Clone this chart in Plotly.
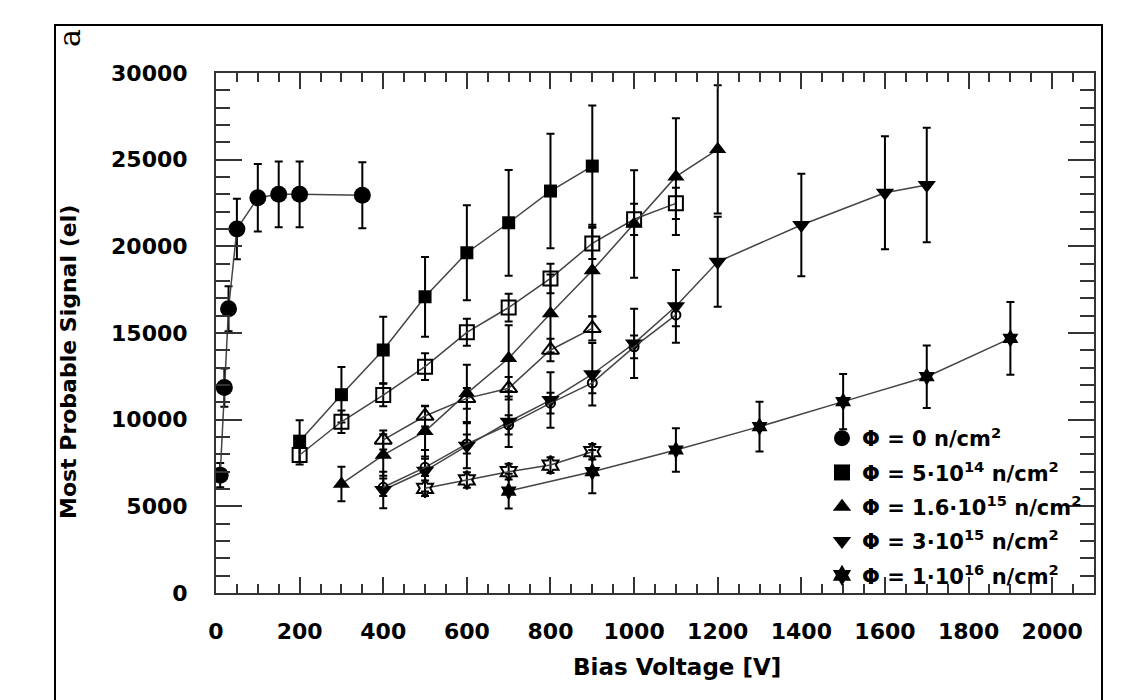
import plotly.graph_objects as go

# ---------------- data ----------------
v0 = [10, 20, 30, 50, 100, 150, 200, 350]
s0 = [6800, 11850, 16400, 21000, 22800, 23000, 23000, 22950]
e0 = [700, 1100, 1300, 1750, 1950, 1900, 1900, 1900]

v1 = [200, 300, 400, 500, 600, 700, 800, 900]
s1 = [8760, 11440, 14020, 17090, 19630, 21360, 23190, 24630]
e1 = [1200, 1600, 1920, 2300, 2740, 3050, 3300, 3500]

v1o = [200, 300, 400, 500, 600, 700, 800, 900, 1000, 1100]
s1o = [7960, 9880, 11420, 13060, 15040, 16470, 18150, 20170, 21560, 22480]
e1o = [550, 650, 650, 770, 780, 800, 850, 900, 900, 900]

v2 = [300, 400, 500, 600, 700, 800, 900, 1000, 1100, 1200]
s2 = [6290, 7960, 9330, 11520, 13540, 16130, 18600, 21290, 24020, 25600]
e2 = [1000, 1200, 1450, 1650, 1900, 2250, 2650, 3100, 3370, 3700]

v2o = [400, 500, 600, 700, 800, 900]
s2o = [8830, 10210, 11230, 11810, 14020, 15270]
e2o = [550, 600, 600, 650, 650, 700]

v3 = [400, 500, 600, 700, 800, 900, 1000, 1100, 1200, 1400, 1600, 1700]
s3 = [5940, 7050, 8490, 9880, 11130, 12620, 14400, 16540, 19110, 21230, 23090, 23540]
e3 = [1050, 1200, 1300, 1450, 1600, 1800, 2000, 2100, 2600, 2960, 3260, 3300]

v3o = [400, 500, 600, 700, 800, 900, 1000, 1100]
s3o = [6100, 7250, 8600, 9700, 10950, 12120, 14200, 16040]
e3o = [500, 500, 550, 550, 600, 600, 650, 650]

v4 = [700, 900, 1100, 1300, 1500, 1700, 1900]
s4 = [5880, 7000, 8250, 9600, 11040, 12480, 14690]
e4 = [1000, 1250, 1250, 1440, 1600, 1800, 2100]

v4o = [500, 600, 700, 800, 900]
s4o = [6040, 6520, 7000, 7380, 8150]
e4o = [450, 450, 450, 450, 450]

legend_labels = [
    "Φ = 0 n/cm<sup>2</sup>",
    "Φ = 5·10<sup>14</sup> n/cm<sup>2</sup>",
    "Φ = 1.6·10<sup>15</sup> n/cm<sup>2</sup>",
    "Φ = 3·10<sup>15</sup> n/cm<sup>2</sup>",
    "Φ = 1·10<sup>16</sup> n/cm<sup>2</sup>",
]
legend_symbols = ["circle", "square", "triangle-up", "triangle-down", "hexagram"]

x_ticks = [0, 200, 400, 600, 800, 1000, 1200, 1400, 1600, 1800, 2000]
y_ticks = [0, 5000, 10000, 15000, 20000, 25000, 30000]

# ---------------- figure ----------------
FONT = "DejaVu Sans"
LINE_COL = "#444444"

fig = go.Figure()

series = [
    (v0, s0, e0, "circle", 17),
    (v1, s1, e1, "square", 13),
    (v1o, s1o, e1o, "square-open", 14),
    (v2, s2, e2, "triangle-up", 15),
    (v2o, s2o, e2o, "triangle-up-open", 15),
    (v3, s3, e3, "triangle-down", 16),
    (v3o, s3o, e3o, "circle-open", 9),
    (v4, s4, e4, "hexagram", 14),
    (v4o, s4o, e4o, "hexagram-open", 14),
]

for xs, ys, es, sym, size in series:
    fig.add_trace(go.Scatter(
        x=xs, y=ys, mode="lines+markers",
        line=dict(color=LINE_COL, width=1.5),
        marker=dict(symbol=sym, size=size, color="black",
                    line=dict(color="black", width=2 if "open" in sym else 0)),
        error_y=dict(type="data", array=es, visible=True, color="black",
                     thickness=2, width=4),
        showlegend=False,
    ))

for i, (lab, sym) in enumerate(zip(legend_labels, legend_symbols)):
    fig.add_trace(go.Scatter(
        x=[None], y=[None], mode="markers", name=lab,
        legendgroup=f"g{i}",
        marker=dict(symbol=sym, size=16, color="black"),
        showlegend=True,
    ))

axis_common = dict(
    showline=True, linecolor="#333333", linewidth=2, mirror="allticks",
    ticks="inside", tickcolor="#333333", tickwidth=2,
    showgrid=False, zeroline=False,
    tickfont=dict(family=FONT, size=22, color="black", weight="bold"),
)

fig.update_xaxes(
    range=[0, 2100], tickvals=x_ticks, ticktext=[str(t) for t in x_ticks],
    ticklen=16, ticklabelstandoff=18,
    minor=dict(dtick=50, tick0=0, ticks="inside", ticklen=9,
               tickcolor="#333333", tickwidth=2, showgrid=False),
    **axis_common,
)
fig.update_yaxes(
    range=[0, 30000], tickvals=y_ticks, ticktext=[str(t) for t in y_ticks],
    ticklen=26, ticklabelstandoff=22,
    minor=dict(dtick=1000, tick0=0, ticks="inside", ticklen=14,
               tickcolor="#333333", tickwidth=2, showgrid=False),
    **axis_common,
)

# plot area: x 216..1094, y 73..593 px
L, R, T, B = 216, 1094, 73, 593
W, H = R - L, B - T

def px(x):
    return (x - L) / W

def py(y):
    return (B - y) / H

fig.update_layout(
    width=1146, height=700,
    margin=dict(l=L, r=1146 - R, t=T, b=700 - B, pad=0),
    paper_bgcolor="white", plot_bgcolor="white",
    legend=dict(
        x=px(822), y=py(418), xanchor="left", yanchor="top",
        bgcolor="rgba(0,0,0,0)", borderwidth=0,
        font=dict(family=FONT, size=21, color="black", weight="bold"),
        tracegroupgap=4, itemsizing="trace",
    ),
    shapes=[dict(
        type="rect", xref="paper", yref="paper",
        x0=px(55), x1=px(1102), y0=py(720), y1=py(25),
        line=dict(color="black", width=2), fillcolor="rgba(0,0,0,0)",
    )],
    annotations=[
        dict(text="Bias Voltage [V]", xref="paper", yref="paper",
             x=px(677), y=py(667), xanchor="center", yanchor="middle",
             showarrow=False,
             font=dict(family=FONT, size=23, color="black", weight="bold")),
        dict(text="Most Probable Signal (el)", xref="paper", yref="paper",
             x=px(68), y=py(362), xanchor="center", yanchor="middle",
             textangle=-90, showarrow=False,
             font=dict(family=FONT, size=22, color="black", weight="bold")),
        dict(text="a", xref="paper", yref="paper",
             x=px(69), y=py(38), xanchor="center", yanchor="middle",
             textangle=-90, showarrow=False,
             font=dict(family="DejaVu Serif", size=30, color="black")),
    ],
)

fig.write_html("out.html")
